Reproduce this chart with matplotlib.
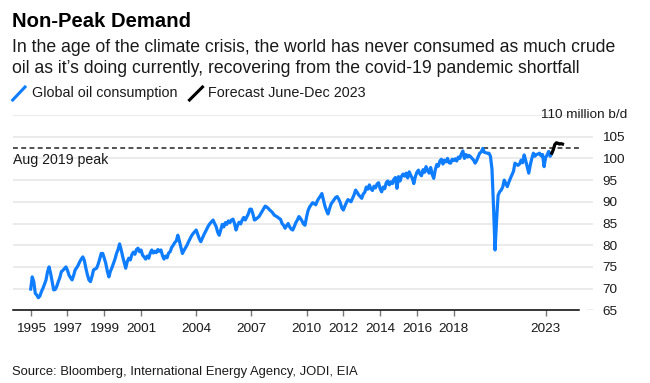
import matplotlib
matplotlib.use("Agg")
import matplotlib.pyplot as plt
from matplotlib.lines import Line2D
import numpy as np

plt.rcParams['font.family'] = ['Liberation Sans', 'DejaVu Sans']

# ---- data (million b/d), monthly from Jan 1995 to May 2023 ----
start_year = 1995
v1995 = [69.9, 72.7, 71.6, 68.9, 68.5, 67.9, 68.3, 69.3, 70.1, 71.0, 72.0, 73.9]
v1996 = [75.0, 73.5, 71.6, 69.7, 69.8, 70.5, 71.6, 72.5, 73.9, 74.2, 74.6, 75.0]
v1997 = [74.2, 73.1, 72.5, 72.0, 73.0, 74.3, 74.8, 75.4, 76.2, 76.8, 77.3, 76.5]
v1998 = [74.7, 73.2, 72.0, 71.6, 72.8, 74.3, 74.5, 74.7, 75.6, 76.8, 78.1, 78.1]
v1999 = [77.0, 75.8, 74.0, 72.7, 74.0, 74.8, 75.8, 76.8, 78.1, 79.0, 80.3, 79.0]
v2000 = [77.4, 76.0, 74.7, 76.2, 77.0, 76.6, 77.8, 78.4, 77.9, 79.0, 79.3, 78.5]
v2001 = [78.9, 77.7, 77.3, 76.8, 77.5, 77.0, 78.2, 78.9, 78.2, 78.6, 78.3, 79.0]
v2002 = [78.6, 78.9, 77.6, 76.8, 77.5, 77.1, 78.2, 78.5, 79.5, 80.0, 80.6, 81.0]
v2003 = [82.3, 81.0, 79.5, 78.1, 78.8, 79.4, 80.0, 80.8, 81.5, 82.2, 82.7, 83.1]
v2004 = [83.5, 82.5, 81.5, 80.8, 81.6, 82.4, 83.1, 83.8, 84.5, 85.0, 85.4, 85.8]
v2005 = [85.0, 84.3, 83.0, 82.3, 83.5, 84.8, 84.2, 85.2, 84.8, 85.6, 85.2, 85.8]
v2006 = [86.0, 85.0, 83.5, 84.6, 85.3, 84.9, 85.8, 86.4, 85.8, 86.5, 87.2, 88.3]
v2007 = [88.3, 87.2, 85.8, 86.0, 86.3, 86.6, 87.2, 87.8, 88.4, 89.0, 88.8, 88.5]
v2008 = [88.1, 87.8, 87.4, 86.9, 86.7, 86.5, 86.2, 86.0, 85.0, 84.6, 83.9, 84.5]
v2009 = [85.0, 84.2, 83.7, 83.5, 84.3, 85.2, 85.8, 86.6, 86.2, 85.6, 84.9, 84.6]
v2010 = [86.5, 88.0, 88.8, 89.3, 89.8, 89.6, 89.3, 90.2, 90.8, 91.3, 91.9, 90.5]
v2011 = [89.0, 88.0, 87.2, 88.4, 89.5, 90.0, 90.5, 91.0, 91.2, 90.6, 89.8, 88.6]
v2012 = [88.1, 89.0, 89.8, 90.5, 90.3, 90.0, 90.8, 91.6, 92.7, 92.2, 91.6, 91.2]
v2013 = [90.8, 91.8, 92.2, 93.4, 92.9, 93.9, 93.0, 92.6, 93.6, 93.2, 94.1, 94.4]
v2014 = [93.0, 92.3, 93.4, 93.0, 94.4, 94.8, 93.9, 94.6, 94.2, 95.2, 95.6, 93.1]
v2015 = [95.8, 94.8, 95.9, 96.4, 95.9, 96.6, 95.5, 96.9, 96.1, 95.4, 94.2, 95.8]
v2016 = [96.8, 97.3, 96.4, 96.0, 97.4, 96.8, 98.1, 97.2, 96.6, 97.9, 96.3, 95.4]
v2017 = [97.4, 98.6, 98.2, 99.4, 99.8, 98.7, 99.6, 99.2, 100.0, 99.0, 98.9, 99.8]
v2018 = [99.5, 99.9, 99.4, 100.3, 100.0, 101.0, 101.7, 100.0, 100.9, 100.3, 100.7, 100.4]
v2019 = [100.0, 99.6, 98.9, 99.5, 100.4, 101.2, 101.5, 102.3, 101.4, 101.3, 101.2, 101.2]
v2020 = [100.5, 97.5, 89.0, 78.9, 85.8, 91.5, 92.3, 92.7, 93.4, 95.0, 94.2, 93.5]
v2021 = [94.5, 95.4, 96.2, 97.0, 98.9, 98.6, 98.4, 98.7, 99.6, 99.0, 100.8, 99.5]
v2022 = [98.0, 96.6, 98.5, 100.0, 101.2, 100.5, 100.9, 101.0, 101.2, 100.6, 100.9, 98.1]
v2023 = [100.2, 100.8, 101.6, 100.5, 101.2]

consumption = (v1995 + v1996 + v1997 + v1998 + v1999 + v2000 + v2001 + v2002 +
               v2003 + v2004 + v2005 + v2006 + v2007 + v2008 + v2009 + v2010 +
               v2011 + v2012 + v2013 + v2014 + v2015 + v2016 + v2017 + v2018 +
               v2019 + v2020 + v2021 + v2022 + v2023)

# Forecast May (join point) to Dec 2023
forecast = [101.2, 102.0, 103.2, 103.6, 103.5, 103.3, 103.4, 103.3]
forecast_start_month = 4  # index of May within 2023

peak_label = "Aug 2019 peak"
peak_year, peak_month = 2019, 8

xtick_years = [1995, 1997, 1999, 2001, 2004, 2007, 2010, 2012, 2014, 2016, 2018, 2023]
ytick_values = [65, 70, 75, 80, 85, 90, 95, 100, 105]
top_value = 110
top_label = "110 million b/d"

title = "Non-Peak Demand"
subtitle1 = "In the age of the climate crisis, the world has never consumed as much crude"
subtitle2 = "oil as it\u2019s doing currently, recovering from the covid-19 pandemic shortfall"
legend1 = "Global oil consumption"
legend2 = "Forecast June-Dec 2023"
source = "Source: Bloomberg, International Energy Agency, JODI, EIA"

BLUE = "#0f7dff"
W, H = 650, 383

# ---- figure ----
fig = plt.figure(figsize=(W / 100, H / 100), dpi=100)
ax_left, ax_right = 13, 593
ax_top, ax_bottom = 115, 310.3
ax = fig.add_axes([ax_left / W, 1 - ax_bottom / H,
                   (ax_right - ax_left) / W, (ax_bottom - ax_top) / H])

px_per_year = 18.39
x0 = 1995 - (30.7 - ax_left) / px_per_year
x1 = x0 + (ax_right - ax_left) / px_per_year
ax.set_xlim(x0, x1)
ax.set_ylim(65, top_value)

t = start_year + np.arange(len(consumption)) / 12.0
ax.plot(t, consumption, color=BLUE, lw=2.3, solid_joinstyle='round', zorder=3)
tf = 2023 + (forecast_start_month + np.arange(len(forecast))) / 12.0
ax.plot(tf, forecast, color='black', lw=2.3, solid_joinstyle='round', zorder=4)

# gridlines
for v in ytick_values[1:] + [top_value]:
    ax.axhline(v, color='#ebebeb', lw=1.4, zorder=1)
axis_end_frac = (579.3 - ax_left) / (ax_right - ax_left)
ax.axhline(65, xmin=axis_end_frac + 0.015, xmax=1, color='#ebebeb', lw=1.4, zorder=1)
ax.axhline(65, xmin=0, xmax=axis_end_frac, color='black', lw=1.1, zorder=5, clip_on=False)

# peak dashed line
peak_val = consumption[(peak_year - start_year) * 12 + peak_month - 1]
ax.axhline(peak_val, xmin=0, xmax=axis_end_frac, color='#222222', lw=1.1,
           ls=(0, (3.2, 2.2)), zorder=2)

for s in ax.spines.values():
    s.set_visible(False)

ax.set_xticks(xtick_years)
ax.set_xticklabels([str(y) for y in xtick_years])
ax.tick_params(axis='x', length=4, width=1, color='#777777', pad=5,
               labelsize=9.7, labelcolor='#1a1a1a')
ax.yaxis.tick_right()
ax.set_yticks(ytick_values)
ax.set_yticklabels([str(v) for v in ytick_values])
ax.tick_params(axis='y', length=0, pad=6.5, labelsize=9.7, labelcolor='#1a1a1a')

fig.text(627 / W, 1 - 115 / H, top_label, ha='right', va='center',
         fontsize=9.7, color='#1a1a1a')
fig.text(13 / W, 1 - 164 / H, peak_label, ha='left', va='baseline',
         fontsize=10.2, color='#1a1a1a')

# header
fig.text(12 / W, 1 - 26.7 / H, title, ha='left', va='baseline',
         fontsize=14.6, fontweight='bold', color='black')
fig.text(12 / W, 1 - 51.7 / H, subtitle1, ha='left', va='baseline',
         fontsize=12.7, color='#1a1a1a')
fig.text(12 / W, 1 - 72.7 / H, subtitle2, ha='left', va='baseline',
         fontsize=12.7, color='#1a1a1a')

# legend
fig.add_artist(Line2D([12.7 / W, 25 / W], [1 - 100 / H, 1 - 87 / H],
                      color=BLUE, lw=2.2, transform=fig.transFigure))
fig.text(31.7 / W, 1 - 97.3 / H, legend1, ha='left', va='baseline',
         fontsize=10.3, color='#1a1a1a')
fig.add_artist(Line2D([189.5 / W, 202.5 / W], [1 - 100 / H, 1 - 87 / H],
                      color='black', lw=2.2, transform=fig.transFigure))
fig.text(208 / W, 1 - 97.3 / H, legend2, ha='left', va='baseline',
         fontsize=10.4, color='#1a1a1a')

fig.text(12 / W, 1 - 375 / H, source, ha='left', va='baseline',
         fontsize=9.4, color='#1a1a1a')

fig.savefig("out.png", dpi=100)
